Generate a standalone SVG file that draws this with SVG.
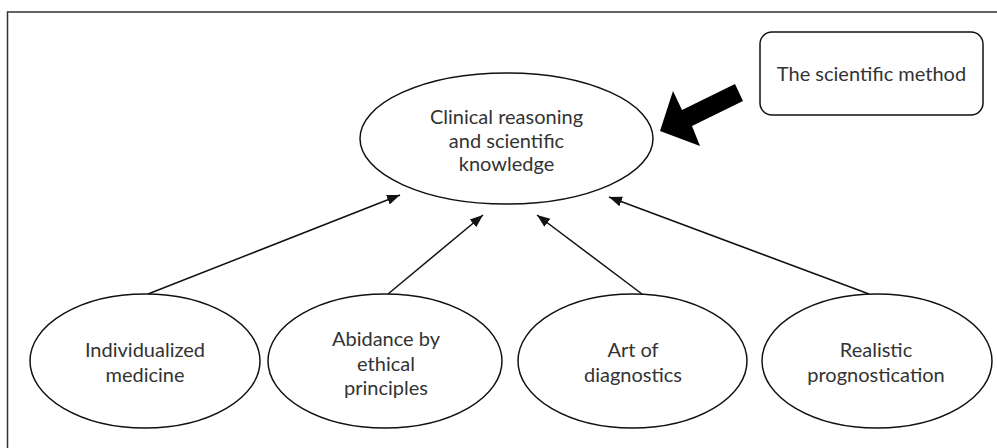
<svg xmlns="http://www.w3.org/2000/svg" width="997" height="448" viewBox="0 0 997 448">
<defs>
<style>
.frame{fill:none;stroke:#333;stroke-width:1.5}
.node{fill:#fff;stroke:#111;stroke-width:1.5}
.lbl{font-family:Lato,"Liberation Sans",sans-serif;font-size:20px;fill:#333;text-anchor:middle}
.edge{fill:none;stroke:#111;stroke-width:1.5}
</style>
<marker id="ah" markerUnits="userSpaceOnUse" markerWidth="14" markerHeight="12" viewBox="0 0 14 12" refX="13" refY="6" orient="auto">
<path d="M0,1 L13,6 L0,11 Z" fill="#111"/>
</marker>
</defs>
<rect width="997" height="448" fill="#fff"/>
<path class="frame" d="M7.5,448 V12 H997"/>
<g id="connectors">
<line class="edge" x1="148" y1="294" x2="400" y2="195" marker-end="url(#ah)"/>
<line class="edge" x1="388" y1="294" x2="483" y2="215" marker-end="url(#ah)"/>
<line class="edge" x1="642" y1="294" x2="537" y2="215" marker-end="url(#ah)"/>
<line class="edge" x1="869" y1="294" x2="609" y2="197" marker-end="url(#ah)"/>
<polygon points="735,84 682,110 673,91 660,131 700,146 692,126 743,101" fill="#000"/>
</g>
<g id="clinical">
<ellipse class="node" cx="506.5" cy="138.5" rx="146.5" ry="65.5"/>
<text class="lbl" x="506.5" y="124">Clinical reasoning</text>
<text class="lbl" x="506.5" y="147.5">and scientific</text>
<text class="lbl" x="506.5" y="171">knowledge</text>
</g>
<g id="method">
<rect class="node" x="760" y="32" width="223" height="83" rx="12"/>
<text class="lbl" x="871.5" y="81">The scientific method</text>
</g>
<g id="individualized">
<ellipse class="node" cx="145" cy="361" rx="115" ry="67"/>
<text class="lbl" x="145" y="357">Individualized</text>
<text class="lbl" x="145" y="381.5">medicine</text>
</g>
<g id="abidance">
<ellipse class="node" cx="385" cy="361" rx="117" ry="67"/>
<text class="lbl" x="386" y="346">Abidance by</text>
<text class="lbl" x="386" y="370.5">ethical</text>
<text class="lbl" x="386" y="395">principles</text>
</g>
<g id="art">
<ellipse class="node" cx="632.5" cy="361" rx="114.5" ry="67"/>
<text class="lbl" x="633" y="357">Art of</text>
<text class="lbl" x="633" y="381.5">diagnostics</text>
</g>
<g id="realistic">
<ellipse class="node" cx="877" cy="361" rx="115" ry="67"/>
<text class="lbl" x="876" y="357">Realistic</text>
<text class="lbl" x="876" y="381.5">prognostication</text>
</g>
</svg>
